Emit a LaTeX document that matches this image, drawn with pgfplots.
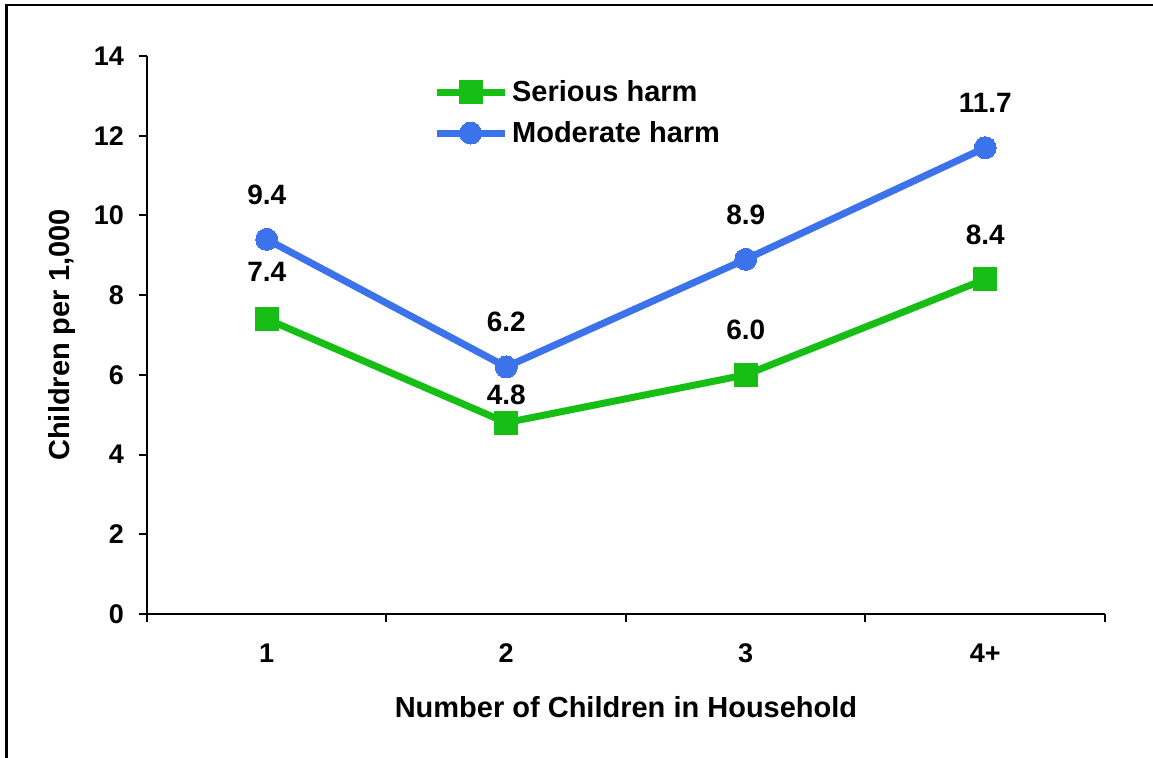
\documentclass[border=0pt]{standalone}
\usepackage{pgfplots}
\pgfplotsset{compat=1.18}
\usepackage{pgfplotstable}
\usepackage{fontspec}
\setmainfont{Liberation Sans}
\definecolor{sgreen}{RGB}{22,190,22}
\definecolor{mblue}{RGB}{60,115,235}

\pgfplotstableread{
x y lab off
1 7.4 7.4 19
2 4.8 4.8 9
3 6.0 6.0 17.5
4 8.4 8.4 17.5
}\serious

\pgfplotstableread{
x y lab off
1 9.4 9.4 17.5
2 6.2 6.2 17.5
3 8.9 8.9 17.5
4 11.7 11.7 17.5
}\moderate

\begin{document}
\begin{tikzpicture}
\useasboundingbox (-73.5pt,-72pt) rectangle (503pt,307pt);
\begin{axis}[
  at={(0,0)}, anchor=south west,
  scale only axis, width=479pt, height=279pt,
  xmin=0.5, xmax=4.5, ymin=0, ymax=14,
  axis lines=left, axis line style={line width=1pt, -},
  xtick={0.5,1.5,2.5,3.5,4.5}, x tick label as interval,
  xticklabels={1,2,3,4+},
  ytick={0,2,...,14},
  tick align=outside, major tick length=4pt,
  tick style={line width=1pt, black},
  tick label style={font=\bfseries\fontsize{13.5}{15}\selectfont},
  /pgf/number format/assume math mode=true,
  yticklabel style={xshift=-4pt},
  xticklabel style={yshift=-7.5pt},
  xlabel={Number of Children in Household},
  ylabel={Children per 1,000},
  label style={font=\bfseries\fontsize{14.5}{16}\selectfont},
  xlabel style={at={(axis description cs:0.5,-0.1667)}, anchor=center},
  ylabel style={at={(axis description cs:-0.0887,0.5)}, anchor=center},
  clip=false,
  legend style={at={(0.292,0.972)}, anchor=north west, draw=none, fill=none,
    font=\bfseries\fontsize{14.5}{16}\selectfont, row sep=4.5pt,
    nodes={inner xsep=2pt}},
  legend cell align=left,
  legend image code/.code={\draw[#1, mark repeat=2, mark phase=2] plot coordinates {(0pt,0pt) (17pt,0pt) (34pt,0pt)};},
  nodes near coords,
  point meta=explicit symbolic,
  visualization depends on={\thisrow{off} \as \laboff},
  every node near coord/.append style={anchor=base, inner sep=0pt, yshift=\laboff pt,
    font=\bfseries\fontsize{14}{16}\selectfont, text=black},
]
\addplot[color=sgreen, line width=3.5pt, mark=square*, mark size=5.75pt,
  mark options={solid, fill=sgreen, line width=0pt}]
  table[x=x, y=y, meta=lab] {\serious};
\addlegendentry{Serious harm}
\addplot[color=mblue, line width=3.5pt, mark=*, mark size=5.5pt,
  mark options={solid, fill=mblue, line width=0pt}]
  table[x=x, y=y, meta=lab] {\moderate};
\addlegendentry{Moderate harm}
\end{axis}
\draw[line width=1.4pt] (-70.25pt,-72pt) -- (-70.25pt,304.5pt) -- (503pt,304.5pt);
\end{tikzpicture}
\end{document}
